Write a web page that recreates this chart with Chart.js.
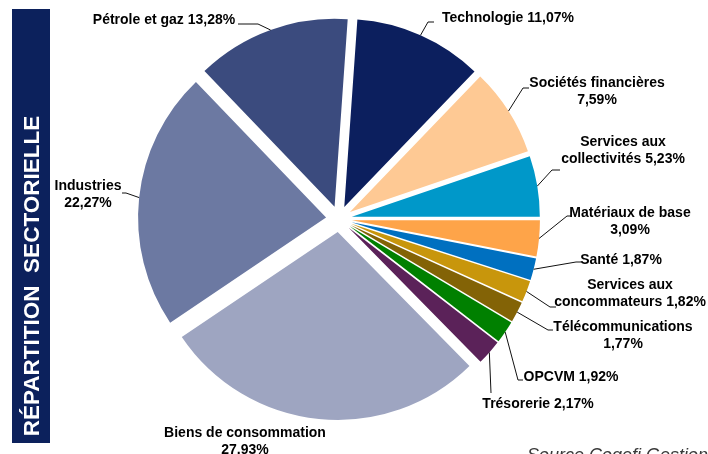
<!DOCTYPE html>
<html>
<head>
<meta charset="utf-8">
<script src="https://cdn.jsdelivr.net/npm/chart.js"></script>
<style>
  html, body { margin: 0; padding: 0; background: #fff; }
  #wrap { position: relative; width: 708px; height: 454px; overflow: hidden; }
</style>
</head>
<body>
<div id="wrap"><canvas id="sectors" width="708" height="454"></canvas></div>
<script>
// Data
const sectors = ['Technologie', 'Sociétés financières', 'Services aux collectivités', 'Matériaux de base',
    'Santé', 'Services aux concommateurs', 'Télécommunications', 'OPCVM', 'Trésorerie',
    'Biens de consommation', 'Industries', 'Pétrole et gaz'];
const weights = [11.07, 7.59, 5.23, 3.09, 1.87, 1.82, 1.77, 1.92, 2.17, 27.93, 22.27, 13.28];
const sliceColors = ['#0c1f5e', '#fec994', '#0098c9', '#fea449', '#0070c0', '#c8960c',
    '#836306', '#008000', '#5b2259', '#9ea5c1', '#6c79a2', '#3b4b7e'];

// Label layout: text centre, first line y, words on line 1, leader elbow and end
const labelPos = [
    { x: 508, y: 18, br: 9, elbow: [428, 22], end: [434, 22] },
    { x: 597, y: 83, br: 2, elbow: [523, 88], end: [529, 88] },
    { x: 623, y: 142, br: 2, elbow: [552, 170], end: [560, 170] },
    { x: 630, y: 213, br: 3, elbow: [567, 216], end: [571, 216] },
    { x: 621, y: 260, br: 9, elbow: [576, 262], end: [581, 262] },
    { x: 630, y: 285, br: 2, elbow: [550, 307], end: [556, 307] },
    { x: 623, y: 327, br: 1, elbow: [548, 330], end: [553, 330] },
    { x: 571, y: 377, br: 9, elbow: [518, 380], end: [523, 380] },
    { x: 538, y: 404, br: 9, elbow: [491, 393], end: [491, 393] },
    { x: 245, y: 433, br: 3, elbow: null, end: null },
    { x: 88, y: 186, br: 1, elbow: [126, 193], end: [122, 193] },
    { x: 164, y: 20, br: 9, elbow: [258, 24], end: [238, 24] }
];

const EXPLODE = 13;

// every slice pulled out from the centre by the same distance
const ArcEl = Chart.ArcElement || Chart.registry.getElement('arc');
const baseArcDraw = ArcEl.prototype.draw;
ArcEl.prototype.draw = function (ctx) {
    const mid = (this.startAngle + this.endAngle) / 2;
    ctx.save();
    ctx.translate(Math.cos(mid) * EXPLODE, Math.sin(mid) * EXPLODE);
    baseArcDraw.call(this, ctx);
    ctx.restore();
};

const pct = v => v.toFixed(2).replace('.', ',') + '%';

const decorations = {
    id: 'decorations',
    afterDatasetsDraw(chart) {
        const ctx = chart.ctx;
        const meta = chart.getDatasetMeta(0);
        ctx.save();

        // left banner
        ctx.fillStyle = '#0c215c';
        ctx.fillRect(12, 9, 38, 434);
        ctx.save();
        ctx.translate(33, 276);
        ctx.rotate(-Math.PI / 2);
        ctx.fillStyle = '#fff';
        ctx.font = 'bold 22.5px "Liberation Sans", Arial, sans-serif';
        ctx.textAlign = 'center';
        ctx.textBaseline = 'middle';
        ctx.fillText('RÉPARTITION  SECTORIELLE', 0, 0);
        ctx.restore();

        // labels and leader lines
        ctx.strokeStyle = '#111';
        ctx.lineWidth = 1;
        ctx.fillStyle = '#000';
        ctx.font = 'bold 14px "Liberation Sans", Arial, sans-serif';
        ctx.textAlign = 'center';
        ctx.textBaseline = 'middle';
        meta.data.forEach((arc, i) => {
            const lp = labelPos[i];
            const words = (sectors[i] + ' ' + pct(weights[i])).split(' ');
            const lines = [words.slice(0, lp.br).join(' ')];
            if (words.length > lp.br) lines.push(words.slice(lp.br).join(' '));
            lines.forEach((t, k) => ctx.fillText(t, lp.x, lp.y + k * 17));

            if (!lp.elbow) return;
            const p = arc.getProps(['x', 'y', 'startAngle', 'endAngle', 'outerRadius'], true);
            const mid = (p.startAngle + p.endAngle) / 2;
            const r = p.outerRadius + EXPLODE;
            ctx.beginPath();
            ctx.moveTo(p.x + Math.cos(mid) * r, p.y + Math.sin(mid) * r);
            ctx.lineTo(lp.elbow[0], lp.elbow[1]);
            ctx.lineTo(lp.end[0], lp.end[1]);
            ctx.stroke();
        });

        // source, cut by the bottom and right edges
        ctx.fillStyle = '#3a3a3a';
        ctx.textAlign = 'left';
        ctx.textBaseline = 'alphabetic';
        ctx.font = 'italic 18px "Liberation Sans", Arial, sans-serif';
        ctx.fillText('Source Cogefi Gestion', 527, 461);
        ctx.restore();
    }
};

new Chart(document.getElementById('sectors'), {
    type: 'pie',
    data: {
        labels: sectors,
        datasets: [{
            data: weights,
            backgroundColor: sliceColors,
            borderWidth: 0,
            offset: 0
        }]
    },
    options: {
        responsive: false,
        animation: false,
        rotation: 4,
        radius: 188,
        layout: { padding: { left: 100, right: 130, top: 10, bottom: 26 } },
        plugins: {
            legend: { display: false },
            tooltip: { enabled: false }
        }
    },
    plugins: [decorations]
});
</script>
</body>
</html>
